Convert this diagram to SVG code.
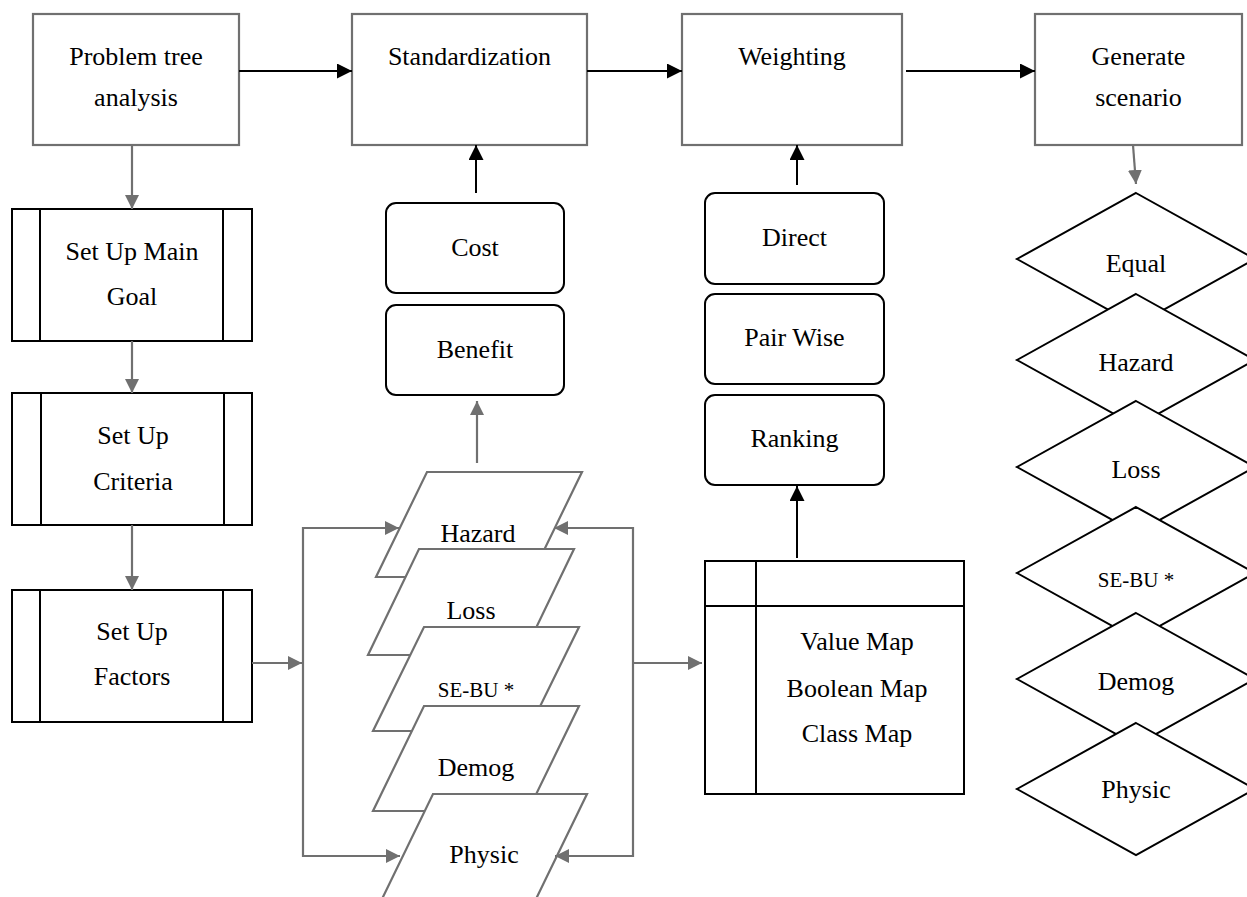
<svg xmlns="http://www.w3.org/2000/svg" width="1247" height="897" viewBox="0 0 1247 897">
<defs>
<style>
.gbox{fill:#fff;stroke:#707070;stroke-width:2.2}
.bbox{fill:#fff;stroke:#000;stroke-width:2}
.gpar{fill:#fff;stroke:#707070;stroke-width:2.2}
.t{font-family:"Liberation Serif","Times New Roman",serif;font-size:26px;fill:#000;text-anchor:middle}
.ts{font-family:"Liberation Serif","Times New Roman",serif;font-size:21px;fill:#000;text-anchor:middle}
.gl{fill:none;stroke:#707070;stroke-width:2.2}
.bl{fill:none;stroke:#000;stroke-width:2}
</style>
<marker id="ag" viewBox="0 0 14 14" refX="14" refY="7" markerWidth="14" markerHeight="14" markerUnits="userSpaceOnUse" orient="auto">
<path d="M0,0 L14,7 L0,14 Z" fill="#707070"/>
</marker>
<marker id="ab" viewBox="0 0 15 15" refX="15" refY="7.5" markerWidth="15" markerHeight="15" markerUnits="userSpaceOnUse" orient="auto">
<path d="M0,0 L15,7.5 L0,15 Z" fill="#000"/>
</marker>
</defs>
<rect width="1247" height="897" fill="#fff"/>

<g id="problem-tree">
<rect class="gbox" x="33" y="14" width="206" height="131"/>
<text class="t" x="136" y="65">Problem tree</text>
<text class="t" x="136" y="106">analysis</text>
</g>
<g id="standardization">
<rect class="gbox" x="352" y="14" width="235" height="131"/>
<text class="t" x="469.5" y="65">Standardization</text>
</g>
<g id="weighting">
<rect class="gbox" x="682" y="14" width="220" height="131"/>
<text class="t" x="792" y="65">Weighting</text>
</g>
<g id="generate-scenario">
<rect class="gbox" x="1035" y="14" width="207" height="131"/>
<text class="t" x="1138.5" y="65">Generate</text>
<text class="t" x="1138.5" y="106">scenario</text>
</g>

<g id="set-up-main-goal">
<rect class="bbox" x="12" y="209" width="240" height="132"/>
<line class="bl" x1="40" y1="209" x2="40" y2="341"/>
<line class="bl" x1="223" y1="209" x2="223" y2="341"/>
<text class="t" x="132" y="260">Set Up Main</text>
<text class="t" x="132" y="305">Goal</text>
</g>
<g id="set-up-criteria">
<rect class="bbox" x="12" y="393" width="240" height="132"/>
<line class="bl" x1="41" y1="393" x2="41" y2="525"/>
<line class="bl" x1="224" y1="393" x2="224" y2="525"/>
<text class="t" x="133" y="444">Set Up</text>
<text class="t" x="133" y="490">Criteria</text>
</g>
<g id="set-up-factors">
<rect class="bbox" x="12" y="590" width="240" height="132"/>
<line class="bl" x1="40" y1="590" x2="40" y2="722"/>
<line class="bl" x1="223" y1="590" x2="223" y2="722"/>
<text class="t" x="132" y="640">Set Up</text>
<text class="t" x="132" y="685">Factors</text>
</g>

<g id="cost">
<rect class="bbox" x="386" y="203" width="178" height="90" rx="10"/>
<text class="t" x="475" y="256">Cost</text>
</g>
<g id="benefit">
<rect class="bbox" x="386" y="305" width="178" height="90" rx="10"/>
<text class="t" x="475" y="358">Benefit</text>
</g>

<g id="direct">
<rect class="bbox" x="705" y="193" width="179" height="91" rx="10"/>
<text class="t" x="794.5" y="246">Direct</text>
</g>
<g id="pair-wise">
<rect class="bbox" x="705" y="294" width="179" height="90" rx="10"/>
<text class="t" x="794.5" y="346">Pair Wise</text>
</g>
<g id="ranking">
<rect class="bbox" x="705" y="395" width="179" height="90" rx="10"/>
<text class="t" x="794.5" y="447">Ranking</text>
</g>

<g id="maps">
<rect class="bbox" x="705" y="561" width="259" height="233"/>
<line class="bl" x1="756" y1="561" x2="756" y2="794"/>
<line class="bl" x1="705" y1="606" x2="964" y2="606"/>
<text class="t" x="857" y="650">Value Map</text>
<text class="t" x="857" y="697">Boolean Map</text>
<text class="t" x="857" y="742">Class Map</text>
</g>

<g id="layer-hazard">
<polygon class="gpar" points="427,472 582,472 531,577 376,577"/>
<text class="t" x="478" y="542">Hazard</text>
</g>
<g id="layer-loss">
<polygon class="gpar" points="419,549 574,549 523,655 368,655"/>
<text class="t" x="471" y="619">Loss</text>
</g>
<g id="layer-sebu">
<polygon class="gpar" points="424,627 579,627 528,731 373,731"/>
<text class="ts" x="476" y="697">SE-BU *</text>
</g>
<g id="layer-demog">
<polygon class="gpar" points="424,706 579,706 528,811 373,811"/>
<text class="t" x="476" y="776">Demog</text>
</g>
<g id="layer-physic">
<polygon class="gpar" points="433,794 587,794 536,899 382,899"/>
<text class="t" x="484" y="863">Physic</text>
</g>

<g id="scenario-equal">
<polygon class="bbox" points="1136,193 1255,259 1136,325 1017,259"/>
<text class="t" x="1136" y="272">Equal</text>
</g>
<g id="scenario-hazard">
<polygon class="bbox" points="1136,294 1255,360 1136,426 1017,360"/>
<text class="t" x="1136" y="371">Hazard</text>
</g>
<g id="scenario-loss">
<polygon class="bbox" points="1136,401 1255,467 1136,533 1017,467"/>
<text class="t" x="1136" y="478">Loss</text>
</g>
<g id="scenario-sebu">
<polygon class="bbox" points="1136,507 1255,573 1136,639 1017,573"/>
<text class="ts" x="1136" y="587">SE-BU *</text>
</g>
<g id="scenario-demog">
<polygon class="bbox" points="1136,613 1255,679 1136,745 1017,679"/>
<text class="t" x="1136" y="690">Demog</text>
</g>
<g id="scenario-physic">
<polygon class="bbox" points="1136,723 1255,789 1136,855 1017,789"/>
<text class="t" x="1136" y="798">Physic</text>
</g>

<g id="connectors">
<line class="bl" x1="239" y1="71" x2="352" y2="71" marker-end="url(#ab)"/>
<line class="bl" x1="587" y1="71" x2="682" y2="71" marker-end="url(#ab)"/>
<line class="bl" x1="906" y1="71" x2="1035" y2="71" marker-end="url(#ab)"/>
<line class="bl" x1="476" y1="193" x2="476" y2="145" marker-end="url(#ab)"/>
<line class="bl" x1="797" y1="185" x2="797" y2="145" marker-end="url(#ab)"/>
<line class="bl" x1="797" y1="558" x2="797" y2="486" marker-end="url(#ab)"/>
<line class="gl" x1="132" y1="145" x2="132" y2="209" marker-end="url(#ag)"/>
<line class="gl" x1="132" y1="341" x2="132" y2="393" marker-end="url(#ag)"/>
<line class="gl" x1="132" y1="525" x2="132" y2="590" marker-end="url(#ag)"/>
<line class="gl" x1="1133" y1="145" x2="1136" y2="184" marker-end="url(#ag)"/>
<line class="gl" x1="477" y1="463" x2="477" y2="401" marker-end="url(#ag)"/>
<line class="gl" x1="252" y1="663" x2="302" y2="663" marker-end="url(#ag)"/>
<polyline class="gl" points="399,528 303,528 303,856 400,856"/>
<line class="gl" x1="303" y1="528" x2="399" y2="528" marker-end="url(#ag)"/>
<line class="gl" x1="303" y1="856" x2="400" y2="856" marker-end="url(#ag)"/>
<polyline class="gl" points="555,528 633,528 633,856 556,856"/>
<line class="gl" x1="633" y1="528" x2="554" y2="528" marker-end="url(#ag)"/>
<line class="gl" x1="633" y1="856" x2="555" y2="856" marker-end="url(#ag)"/>
<line class="gl" x1="633" y1="663" x2="702" y2="663" marker-end="url(#ag)"/>
</g>
</svg>
